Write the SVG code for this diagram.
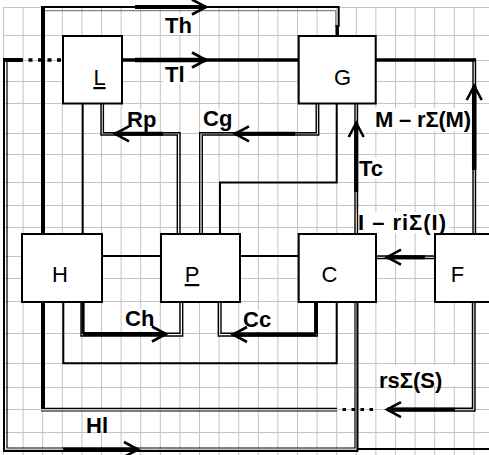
<svg xmlns="http://www.w3.org/2000/svg" width="489" height="455" viewBox="0 0 489 455">
<style>
.grid{fill:none;stroke:#c4c4c4;stroke-width:1}
.bg{fill:#fff}
.box{fill:#fff;stroke:#000;stroke-width:2}
.ln{fill:none;stroke:#000;stroke-width:2}
.dl{fill:none;stroke:#000;stroke-width:1.4}
.fa{fill:none;stroke:#666;stroke-width:1}
.tk{fill:none;stroke:#000;stroke-width:4}
.sh{fill:none;stroke:#000;stroke-width:4;marker-end:url(#ah)}
.dot{fill:none;stroke:#000;stroke-width:3.5}
.lbl{font-family:"Liberation Sans",Arial,sans-serif;font-weight:bold;font-size:22px;fill:#000}
.bl{font-family:"Liberation Sans",Arial,sans-serif;font-size:22px;text-anchor:middle;fill:#000}
</style>
<defs>
<marker id="ah" viewBox="-16 -9 18 18" refX="0" refY="0" markerWidth="18" markerHeight="18" markerUnits="userSpaceOnUse" orient="auto" overflow="visible">
<path d="M-14,-7.5L0,0L-14,7.5" fill="none" stroke="#000" stroke-width="2.6"/>
</marker>
</defs>
<rect width="489" height="455" fill="#fff"/>
<path class="grid" d="M3.5,7V455M23.1,7V455M42.7,7V455M62.3,7V455M81.9,7V455M101.5,7V455M121.1,7V455M140.7,7V455M160.3,7V455M179.9,7V455M199.5,7V455M219.1,7V455M238.7,7V455M258.3,7V455M277.9,7V455M297.5,7V455M317.1,7V455M336.7,7V455M356.3,7V455M375.9,7V455M395.5,7V455M415.1,7V455M434.7,7V455M454.3,7V455M473.9,7V455"/>
<path class="grid" d="M3.5,7.5H489M3.5,35.5H489M3.5,60.5H489M3.5,81.5H489M3.5,103.5H489M3.5,133.5H489M3.5,154.5H489M3.5,182.5H489M3.5,205.5H489M3.5,227.5H489M3.5,256.5H489M3.5,278.5H489M3.5,301.5H489M3.5,333.5H489M3.5,363.5H489M3.5,387.5H489M3.5,409.5H489M3.5,432.5H489M3.5,449.5H489"/>
<g id="label-bg">
<rect class="bg" x="163" y="14" width="32" height="21"/>
<rect class="bg" x="163" y="63" width="25" height="21"/>
<rect class="bg" x="126" y="109" width="33" height="22"/>
<rect class="bg" x="202" y="109" width="33" height="22"/>
<rect class="bg" x="373" y="108" width="100" height="23"/>
<rect class="bg" x="358" y="158" width="31" height="21"/>
<rect class="bg" x="356" y="212" width="94" height="21"/>
<rect class="bg" x="124" y="309" width="33" height="22"/>
<rect class="bg" x="242" y="310" width="32" height="21"/>
<rect class="bg" x="377" y="365" width="80" height="21"/>
<rect class="bg" x="84" y="411" width="36" height="20"/>
</g>
<g id="connectors">
<path class="tk" d="M43,7V234"/>
<path class="ln" d="M41,7H338.7V27"/>
<path class="fa" d="M45,10.7H335.8V27"/>
<path class="ln" d="M337.2,25V36" style="stroke-width:3.5"/>
<path class="sh" d="M135,7H206"/>
<path class="ln" d="M122,60H299" style="stroke-width:3.6"/>
<path class="sh" d="M135,60H206" style="stroke-width:4.5"/>
<path class="dot" d="M61,60H22" stroke-dasharray="4 5.5"/>
<path class="tk" d="M3,60H22"/>
<path class="ln" d="M4,58V451H357.5V302"/>
<path class="dl" d="M7,62V448H355V302" style="stroke-width:1.2"/>
<path class="sh" d="M63,449.5H138"/>
<path class="ln" d="M357.5,449H489"/>
<path class="dl" d="M101,103V135H177.3V234"/>
<path class="dl" d="M103.4,103V132.7H180V234"/>
<path class="sh" d="M163,133.8H115"/>
<path class="dl" d="M318.7,103V135H202.3V234"/>
<path class="dl" d="M316.2,103V132.7H199.7V234"/>
<path class="sh" d="M295,133.8H235"/>
<path class="ln" d="M220,234V182.5H336.7V103"/>
<path class="dl" d="M355,234V103"/>
<path class="dl" d="M357.5,234V103"/>
<path class="sh" d="M356.2,192V123"/>
<path class="ln" d="M376,60H476" style="stroke-width:3.6"/>
<path class="dl" d="M473,61V234"/>
<path class="dl" d="M475.5,58.5V234"/>
<path class="sh" d="M474.2,170V86" style="stroke-width:4.5"/>
<path class="dl" d="M376,256H435"/>
<path class="dl" d="M376,258.5H435"/>
<path class="sh" d="M425,257.2H387"/>
<path class="dl" d="M472.5,302V408.3H388"/>
<path class="dl" d="M475,302V411H388"/>
<path class="sh" d="M455,409.6H387" style="stroke-width:3.5"/>
<path class="dot" d="M373,409.6H337" stroke-dasharray="3.5 5.5" style="stroke-width:3"/>
<path class="dl" d="M337,408.3H41" style="stroke-width:1.2"/>
<path class="dl" d="M337,411H41" style="stroke-width:1.2"/>
<path class="tk" d="M43,302V409"/>
<path class="dl" d="M81,302V336H182.7V302"/>
<path class="dl" d="M83.5,302V333.3H180V302"/>
<path class="ln" d="M83,302V334" style="stroke-width:3"/>
<path class="sh" d="M83,334H166"/>
<path class="dl" d="M317.3,302V336H218.3V302"/>
<path class="dl" d="M315,302V333.3H221V302"/>
<path class="ln" d="M316,302V334" style="stroke-width:3.5"/>
<path class="sh" d="M316,334.5H233"/>
<path class="ln" d="M63.3,302V363.3H336.7V302"/>
<path class="ln" d="M102,256H161"/>
<path class="ln" d="M240,256H299"/>
<path class="ln" d="M82.7,103V234"/>
</g>
<g id="node-L"><rect class="box" x="63" y="36" width="59" height="67.5"/><text class="bl" x="99.5" y="85" text-decoration="underline">L</text></g>
<g id="node-G"><rect class="box" x="298.7" y="36" width="77" height="67.5"/><text class="bl" x="342.5" y="85">G</text></g>
<g id="node-H"><rect class="box" x="22" y="234" width="80" height="68"/><text class="bl" x="60" y="282">H</text></g>
<g id="node-P"><rect class="box" x="161" y="234" width="79" height="68"/><text class="bl" x="192" y="282" text-decoration="underline">P</text></g>
<g id="node-C"><rect class="box" x="298.7" y="234" width="77.3" height="68"/><text class="bl" x="329.5" y="282">C</text></g>
<g id="node-F"><rect class="box" x="435" y="234" width="60" height="68"/><text class="bl" x="457.5" y="282">F</text></g>
<g id="labels">
<text class="lbl" x="165" y="33">Th</text>
<text class="lbl" x="165" y="82">Tl</text>
<text class="lbl" x="127" y="127">Rp</text>
<text class="lbl" x="203" y="126">Cg</text>
<text class="lbl" x="375" y="127" textLength="96" lengthAdjust="spacing">M – rΣ(M)</text>
<text class="lbl" x="359" y="176">Tc</text>
<text class="lbl" x="358" y="230" textLength="88" lengthAdjust="spacing">I – riΣ(I)</text>
<text class="lbl" x="125" y="326">Ch</text>
<text class="lbl" x="243" y="327">Cc</text>
<text class="lbl" x="379" y="388">rsΣ(S)</text>
<text class="lbl" x="86" y="433">Hl</text>
</g>
</svg>
